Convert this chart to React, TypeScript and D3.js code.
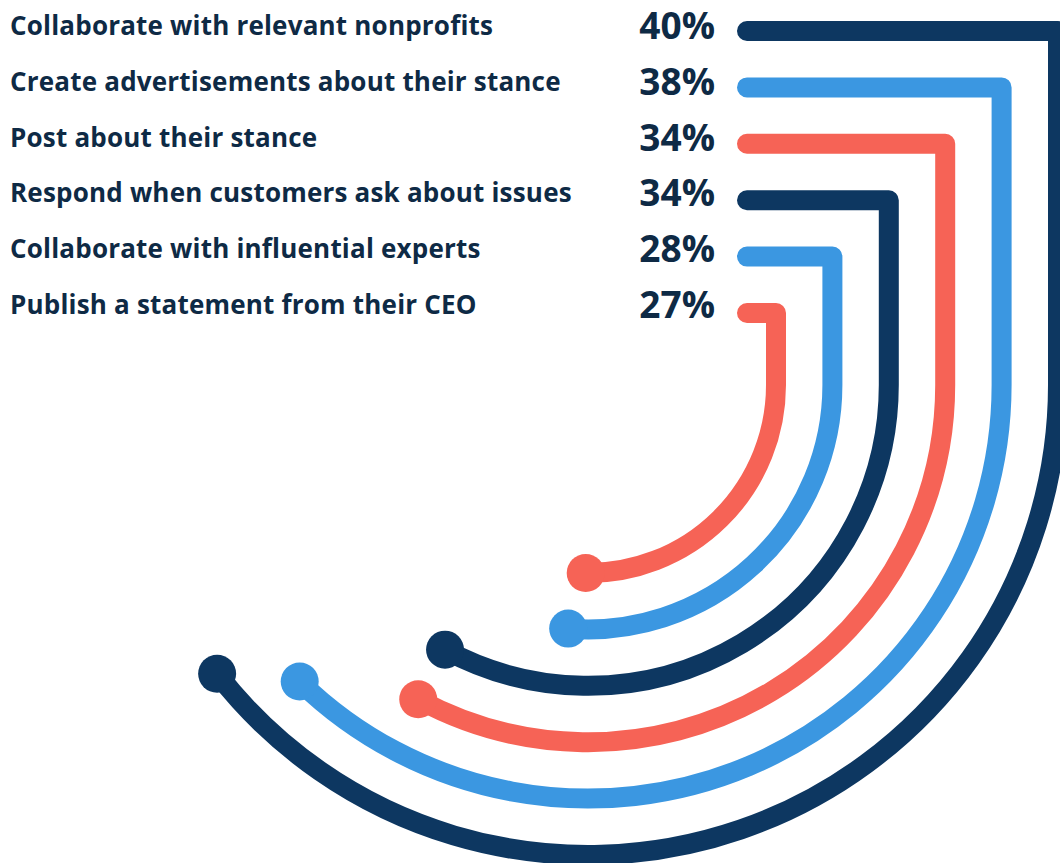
import React from "react";
import * as d3 from "d3";

const categories = [
  "Collaborate with relevant nonprofits",
  "Create advertisements about their stance",
  "Post about their stance",
  "Respond when customers ask about issues",
  "Collaborate with influential experts",
  "Publish a statement from their CEO",
];
const values = [40, 38, 34, 34, 28, 27];
const palette = ["#0D3761", "#3B97E1", "#F66356", "#0D3761", "#3B97E1", "#F66356"];

const W = 1060;
const H = 863;

export default function App() {
  const idx = d3.range(categories.length);
  const rowY = d3.scaleLinear().domain([0, categories.length - 1]).range([31, 313]);
  const textY = d3.scaleLinear().domain([0, categories.length - 1]).range([35, 314]);
  const radius = d3.scaleLinear().domain([0, categories.length - 1]).range([470, 188]);
  const angle = d3
    .scaleLinear()
    .domain([27, 40])
    .range([(90.7 * Math.PI) / 180, (142.1 * Math.PI) / 180]);
  const cx = 588;
  const cy = 385;
  const startX = 747;
  const stroke = 20;

  const tracks = idx.map((i) => {
    const r = radius(i);
    const y = rowY(i);
    const a = angle(values[i]);
    const p = d3.path();
    p.moveTo(startX, y);
    p.lineTo(cx + r, y);
    p.lineTo(cx + r, cy);
    p.arc(cx, cy, r, 0, a, false);
    return {
      d: p.toString(),
      ex: cx + r * Math.cos(a),
      ey: cy + r * Math.sin(a),
      color: palette[i],
    };
  });

  return (
    <svg
      width={W}
      height={H}
      style={{ position: "absolute", left: 0, top: 0, background: "#fff" }}
    >
      {idx.map((i) => (
        <text
          key={"l" + i}
          x={10}
          y={textY(i)}
          fontFamily="'Open Sans', 'Noto Sans', sans-serif"
          fontWeight={700}
          fontSize={26}
          letterSpacing={0.2}
          fill="#0E2A45"
        >
          {categories[i]}
        </text>
      ))}
      {idx.map((i) => (
        <text
          key={"v" + i}
          x={715}
          y={textY(i) + 4}
          textAnchor="end"
          fontFamily="'Open Sans', 'Noto Sans', sans-serif"
          fontWeight={700}
          fontSize={37}
          fill="#0E2A45"
        >
          {d3.format(".0%")(values[i] / 100)}
        </text>
      ))}
      {tracks.map((t, i) => (
        <g key={"t" + i}>
          <path
            d={t.d}
            fill="none"
            stroke={t.color}
            strokeWidth={stroke}
            strokeLinecap="round"
            strokeLinejoin="round"
          />
          <circle cx={t.ex} cy={t.ey} r={19} fill={t.color} />
        </g>
      ))}
    </svg>
  );
}
